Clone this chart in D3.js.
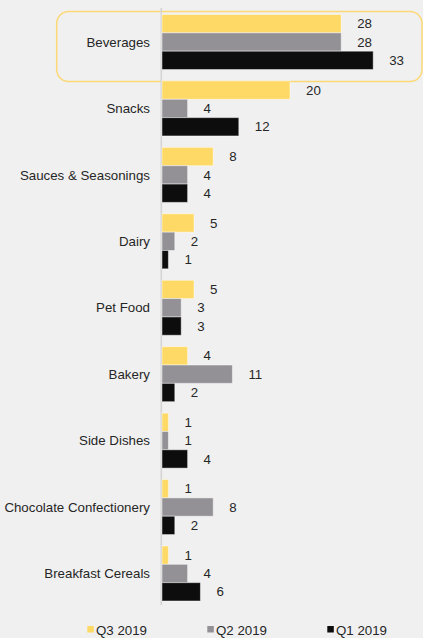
<!DOCTYPE html>
<html>
<head>
<meta charset="utf-8">
<script src="https://cdn.jsdelivr.net/npm/d3@7"></script>
<style>
  html, body { margin: 0; padding: 0; background: #f0f0f0; }
  svg { display: block; font-family: "Liberation Sans", Arial, sans-serif; }
</style>
</head>
<body>
<svg id="chart" width="423" height="638"></svg>
<script>
const categories = ["Beverages", "Snacks", "Sauces & Seasonings", "Dairy", "Pet Food", "Bakery", "Side Dishes", "Chocolate Confectionery", "Breakfast Cereals"];
const seriesNames = ["Q3 2019", "Q2 2019", "Q1 2019"];
const q3_2019 = [28, 20, 8, 5, 5, 4, 1, 1, 1];
const q2_2019 = [28, 4, 4, 2, 3, 11, 1, 8, 4];
const q1_2019 = [33, 12, 4, 1, 3, 2, 4, 2, 6];
const seriesColors = ["#ffd966", "#939196", "#0d0d0d"];
const highlighted = "Beverages";

const seriesValues = [q3_2019, q2_2019, q1_2019];
const rows = categories.map((c, i) => ({ cat: c, vals: seriesValues.map((s, j) => ({ key: seriesNames[j], value: s[i], color: seriesColors[j] })) }));

const svg = d3.select("#chart");
svg.append("rect").attr("width", 423).attr("height", 638).attr("fill", "#f0f0f0");

const y = d3.scaleBand().domain(categories).range([8.8, 606.7]).paddingInner(0.172).paddingOuter(0.086);
const ySub = d3.scaleBand().domain(seriesNames).range([0, y.bandwidth()]).padding(0);
const x = d3.scaleLinear().domain([0, 35]).range([162, 386]);

// highlight box
const hb = y(highlighted);
svg.append("rect")
  .attr("x", 56.7).attr("y", hb - 3.1)
  .attr("width", 365.3).attr("height", y.step() + 3.6)
  .attr("rx", 12).attr("ry", 12)
  .attr("fill", "none").attr("stroke", "#fcd877").attr("stroke-width", 1.5);

// axis line
svg.append("line")
  .attr("x1", 161.3).attr("x2", 161.3)
  .attr("y1", 8).attr("y2", 605)
  .attr("stroke", "#d4d4d4").attr("stroke-width", 1.6);

const g = svg.selectAll("g.cat").data(rows).enter().append("g")
  .attr("class", "cat")
  .attr("transform", d => `translate(0,${y(d.cat)})`);

g.selectAll("rect").data(d => d.vals).enter().append("rect")
  .attr("x", x(0))
  .attr("y", d => ySub(d.key))
  .attr("width", d => x(d.value) - x(0))
  .attr("height", ySub.bandwidth())
  .attr("fill", d => d.color)
  .attr("stroke", "rgba(255,255,255,0.45)")
  .attr("stroke-width", 1);

g.selectAll("text.val").data(d => d.vals).enter().append("text")
  .attr("class", "val")
  .attr("x", d => x(d.value) + 16)
  .attr("y", d => ySub(d.key) + ySub.bandwidth() / 2)
  .attr("dy", "0.35em")
  .attr("font-size", 13.3)
  .attr("fill", "#262626")
  .text(d => d.value);

g.append("text")
  .attr("x", 150)
  .attr("y", y.bandwidth() / 2)
  .attr("dy", "0.35em")
  .attr("text-anchor", "end")
  .attr("font-size", 13.3)
  .attr("fill", "#262626")
  .text(d => d.cat);

// legend
const legendX = d3.scalePoint().domain(seriesNames).range([87.3, 327.3]);
const lg = svg.selectAll("g.leg").data(seriesNames).enter().append("g")
  .attr("class", "leg")
  .attr("transform", d => `translate(${legendX(d)},626)`);
lg.append("rect").attr("width", 6.5).attr("height", 6.5)
  .attr("fill", (d, i) => seriesColors[i]);
lg.append("text").attr("x", 8.7).attr("y", 9)
  .attr("font-size", 13.3).attr("fill", "#262626")
  .text(d => d);
</script>
</body>
</html>
